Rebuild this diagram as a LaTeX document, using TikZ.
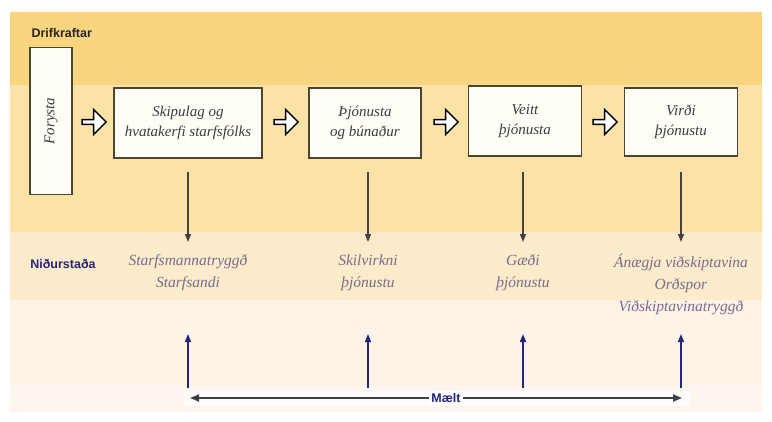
\documentclass[tikz,border=0pt]{standalone}
\usepackage{fontspec}
\setmainfont{Liberation Serif}
\setsansfont{Liberation Sans}
\usetikzlibrary{shapes.arrows,arrows.meta}
\definecolor{bgA}{HTML}{F8D57E}
\definecolor{bgB}{HTML}{FBE2A6}
\definecolor{bgC}{HTML}{FDEBCB}
\definecolor{bgD}{HTML}{FEF3E6}
\definecolor{bgE}{HTML}{FCF6EE}
\definecolor{boxline}{HTML}{4A4530}
\definecolor{boxfill}{HTML}{FFFEF6}
\definecolor{boxtext}{HTML}{3A3A40}
\definecolor{restext}{HTML}{7A6C8C}
\definecolor{navy}{HTML}{25257A}
\definecolor{downline}{HTML}{4A4040}
\tikzset{
  stagebox/.style={draw=boxline, line width=1.5pt, fill=boxfill, align=center,
    font=\itshape\fontsize{15}{20}\selectfont, text=boxtext, inner sep=2pt},
  hollow/.style={single arrow, draw=black, line width=1.4pt, fill=white,
    minimum height=24pt, minimum width=25pt, single arrow head extend=3pt, inner sep=0pt},
  restxt/.style={align=center, font=\itshape\fontsize{15.5}{22}\selectfont, text=restext},
  hdr/.style={font=\sffamily\bfseries\fontsize{12.5}{14}\selectfont},
  downarr/.style={draw=downline, line width=1.5pt, -{Triangle[length=8pt,width=6pt]}},
  uparr/.style={draw=navy, line width=1.5pt, -{Triangle[length=8pt,width=6pt,fill=black!80]}},
}
\begin{document}
\begin{tikzpicture}[x=1pt,y=-1pt]
\useasboundingbox (0,0) rectangle (772,421);
\fill[white] (0,0) rectangle (772,421);
% background bands
\fill[bgA] (10,12) rectangle (762,85);
\fill[bgB] (10,85) rectangle (762,232);
\fill[bgC] (10,232) rectangle (762,300);
\fill[bgD] (10,300) rectangle (762,385);
\fill[bgE] (10,385) rectangle (762,412);

\node[hdr, anchor=west, text=black!85] (drif) at (28,33) {Drifkraftar};

% stage boxes
\node[stagebox, minimum width=42pt, minimum height=147pt] (b1) at (51,121) {};
\node[rotate=90, font=\itshape\fontsize{15}{18}\selectfont, text=boxtext] (b1t) at (b1.center) {Forysta};
\node[stagebox, minimum width=148pt, minimum height=70pt] (b2) at (188,123) {Skipulag og\\hvatakerfi starfsfólks};
\node[stagebox, minimum width=112pt, minimum height=70pt] (b3) at (365,123) {Þjónusta\\og búnaður};
\node[stagebox, minimum width=113pt, minimum height=70pt] (b4) at (525,121) {Veitt\\þjónusta};
\node[stagebox, minimum width=113pt, minimum height=68pt] (b5) at (681,122) {Virði\\þjónustu};

% hollow arrows
\node[hollow] (h1) at (93,122) {};
\node[hollow] (h2) at (285,122) {};
\node[hollow] (h3) at (445,122) {};
\node[hollow] (h4) at (604,122) {};

% results
\node[hdr, text=navy] (nid) at (63,264) {Niðurstaða};
\node[restxt, anchor=north] (r1) at (188,251) {Starfsmannatryggð\\Starfsandi};
\node[restxt, anchor=north] (r2) at (368,251) {Skilvirkni\\þjónustu};
\node[restxt, anchor=north] (r3) at (523,251) {Gæði\\þjónustu};
\node[restxt, anchor=north] (r4) at (681,251) {Ánægja viðskiptavina\\Orðspor\\Viðskiptavinatryggð};

% coordinates for arrows
\coordinate (d1s) at (188,172); \coordinate (d1e) at (188,242);
\coordinate (d2s) at (368,172); \coordinate (d2e) at (368,242);
\coordinate (d3s) at (523,172); \coordinate (d3e) at (523,242);
\coordinate (d4s) at (681,172); \coordinate (d4e) at (681,242);
\draw[downarr] (d1s) -- (d1e);
\draw[downarr] (d2s) -- (d2e);
\draw[downarr] (d3s) -- (d3e);
\draw[downarr] (d4s) -- (d4e);

\coordinate (u1s) at (188,388); \coordinate (u1e) at (188,334);
\coordinate (u2s) at (368,388); \coordinate (u2e) at (368,334);
\coordinate (u3s) at (523,388); \coordinate (u3e) at (523,334);
\coordinate (u4s) at (681,388); \coordinate (u4e) at (681,334);
\draw[uparr] (u1s) -- (u1e);
\draw[uparr] (u2s) -- (u2e);
\draw[uparr] (u3s) -- (u3e);
\draw[uparr] (u4s) -- (u4e);

% measurement axis
\fill[white!70!bgE] (185,391) rectangle (690,406);
\coordinate (mL) at (190,398);
\coordinate (mR) at (682,398);
\draw[draw=black!75, line width=1.7pt, {Triangle[length=9pt,width=7pt,fill=navy]}-{Triangle[length=9pt,width=7pt]}] (mL) -- (mR);
\node[font=\sffamily\bfseries\fontsize{12.5}{14}\selectfont, text=navy, fill=white, inner sep=2pt] (maelt) at (446,398) {Mælt};
\end{tikzpicture}
\end{document}
